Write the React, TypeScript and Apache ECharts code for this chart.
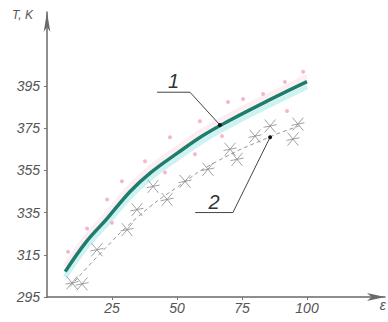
import React, { useEffect, useRef } from "react";
import * as echarts from "echarts";

// Tick labels
const xTicks = [25, 50, 75, 100];
const yTicks = [295, 315, 335, 355, 375, 395];

// Curve 1 (fitted line)
const curve1X = [7, 15, 23, 32, 40, 50, 60, 70, 85, 100];
const curve1Y = [307, 321, 332, 345, 354, 363, 371.5, 378.5, 388, 397];

// Curve 2 (thin dashed line)
const curve2X = [9, 20, 35, 50, 65, 86, 97];
const curve2Y = [300, 315, 333, 347, 359, 371, 376];

// Pink experimental points
const pinkX = [8.1, 15.4, 23.1, 28.8, 25, 37.7, 45.4, 47.3, 56.9, 58.8, 67.3, 69.6, 75.4, 83.1, 91.5, 98.5, 92.3];
const pinkY = [316.4, 327.4, 341.2, 349.8, 330.2, 359.3, 354, 370.7, 362.6, 378.3, 371.2, 387.4, 388.8, 391.2, 396.9, 401.7, 383.1];

// Cross markers
const crossX = [9.6, 13.5, 19.2, 30.8, 34.6, 40.8, 46.2, 53.1, 61.9, 70.4, 73.1, 80, 85.8, 94.6, 96.5];
const crossY = [301.7, 301.2, 317.4, 326.9, 336.4, 347.4, 341.2, 349.8, 355.5, 365, 360.2, 371.2, 376, 369.8, 376.9];

// Callouts: [label, anchorX, anchorY, elbowX, elbowY, endX, endY]
const callouts: [string, number, number, number, number, number, number][] = [
  ["1", 66.5, 376.5, 55, 392, 42.3, 392],
  ["2", 85.8, 370.7, 71.5, 335, 57, 335],
];

const toPairs = (xs: number[], ys: number[]) => xs.map((x, i) => [x, ys[i]]);

export default function App() {
  const ref = useRef<HTMLDivElement>(null);
  useEffect(() => {
    document.body.style.margin = "0";
    if (!ref.current) return;
    const chart = echarts.init(ref.current, null, { renderer: "svg" });
    const labelFont = {
      fontFamily: "Liberation Sans, sans-serif",
      fontStyle: "italic" as const,
      fontSize: 14,
      color: "#555",
    };
    chart.setOption({
      animation: false,
      grid: { left: 47, right: 3, top: 12, bottom: 25 },
      xAxis: {
        type: "value",
        min: 0,
        max: 130,
        splitLine: { show: false },
        axisLine: { lineStyle: { color: "#6a6a6a", width: 1.5 }, symbol: ["none", "arrow"], symbolSize: [6, 18] },
        axisTick: { show: true, length: 3, customValues: xTicks, lineStyle: { color: "#777" } },
        axisLabel: { ...labelFont, margin: 4, customValues: xTicks },
      },
      yAxis: {
        type: "value",
        min: 295,
        max: 430,
        splitLine: { show: false },
        axisLine: { show: true, lineStyle: { color: "#6a6a6a", width: 1.5 }, symbol: ["none", "arrow"], symbolSize: [5, 20] },
        axisTick: { show: true, length: 3, customValues: yTicks, lineStyle: { color: "#777" } },
        axisLabel: { ...labelFont, margin: 7, customValues: yTicks },
      },
      series: [
        {
          type: "line",
          data: toPairs(curve1X, curve1Y.map((v) => v + 2.5)),
          smooth: true,
          symbol: "none",
          lineStyle: { color: "#fdeef3", width: 5 },
          z: 1,
        },
        {
          type: "line",
          data: toPairs(curve1X, curve1Y.map((v) => v - 2.5)),
          smooth: true,
          symbol: "none",
          lineStyle: { color: "#ccf3f1", width: 5 },
          z: 1,
        },
        {
          type: "line",
          data: toPairs(curve2X, curve2Y),
          smooth: true,
          symbol: "none",
          lineStyle: { color: "#999", width: 1, type: [4, 3] },
          z: 2,
        },
        {
          type: "scatter",
          data: toPairs(pinkX, pinkY),
          symbol: "circle",
          symbolSize: 4,
          itemStyle: { color: "#f3a5bf", opacity: 0.8 },
          z: 3,
        },
        {
          type: "scatter",
          data: toPairs(crossX, crossY),
          symbol: "path://M0,0L10,10M10,0L0,10M-1,6L11,4",
          symbolSize: 13,
          itemStyle: { color: "none", borderColor: "#8a8a8a", borderWidth: 1 },
          z: 3,
        },
        {
          type: "line",
          data: toPairs(curve1X, curve1Y),
          smooth: 0.4,
          symbol: "none",
          lineStyle: { color: "#1f7d6c", width: 3.5 },
          z: 5,
        },
      ],
    });

    const graphics: any[] = [
      {
        type: "text",
        left: 12,
        top: 9,
        style: { text: "T, K", fill: "#555", font: "italic 12px 'Liberation Sans', sans-serif" },
      },
      {
        type: "text",
        right: 2,
        top: 298,
        style: { text: "ε", fill: "#555", font: "italic 14px 'Liberation Sans', sans-serif" },
      },
    ];
    callouts.forEach(([label, ax, ay, ex, ey, tx, ty]) => {
      const a = chart.convertToPixel({ gridIndex: 0 }, [ax, ay]) as number[];
      const e = chart.convertToPixel({ gridIndex: 0 }, [ex, ey]) as number[];
      const t = chart.convertToPixel({ gridIndex: 0 }, [tx, ty]) as number[];
      graphics.push({
        type: "polyline",
        shape: { points: [a, e, t] },
        style: { stroke: "#444", lineWidth: 1, fill: "none" },
        z: 10,
      });
      graphics.push({
        type: "circle",
        shape: { cx: a[0], cy: a[1], r: 2 },
        style: { fill: "#111" },
        z: 11,
      });
      graphics.push({
        type: "text",
        x: (e[0] + t[0]) / 2,
        y: e[1] - 1,
        style: {
          text: label,
          fill: "#333",
          font: "italic 20px 'Liberation Sans', sans-serif",
          align: "center",
          verticalAlign: "bottom",
        },
        z: 11,
      });
    });
    chart.setOption({ graphic: graphics });

    return () => chart.dispose();
  }, []);
  return <div ref={ref} style={{ width: 388, height: 322 }} />;
}
